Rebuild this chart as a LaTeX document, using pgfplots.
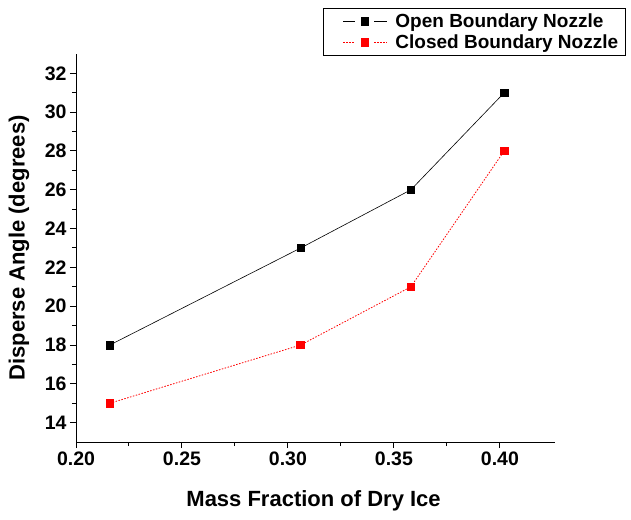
\documentclass[border=0pt]{standalone}
\usepackage{fontspec}
\setmainfont{Liberation Sans}
\usepackage{pgfplots}
\pgfplotsset{compat=1.18}

\begin{document}
\begin{tikzpicture}[x=1pt,y=1pt]
\useasboundingbox (0,0) rectangle (631,519);
\begin{axis}[
    at={(76pt,77pt)}, anchor=south west,
    scale only axis,
    width=479pt, height=388pt,
    xmin=0.2, xmax=0.426,
    ymin=13, ymax=33,
    axis lines*=left,
    axis line style={-, line width=1pt},
    tick align=outside,
    major tick length=6pt,
    minor tick length=4pt,
    tick style={line width=1pt, black},
    xtick={0.20,0.25,0.30,0.35,0.40},
    ytick={14,16,...,32},
    minor x tick num=1,
    minor y tick num=1,
    /pgf/number format/assume math mode=true,
    xticklabel style={/pgf/number format/fixed, /pgf/number format/fixed zerofill, /pgf/number format/precision=2},
    ticklabel style={font=\fontsize{19.5}{22}\selectfont\bfseries},
    xlabel={Mass Fraction of Dry Ice},
    ylabel={Disperse Angle (degrees)},
    every axis x label/.style={at={(axis description cs:0.496,-0.1675)}, anchor=base,
        font=\fontsize{22}{26}\selectfont\bfseries},
    every axis y label/.style={at={(axis description cs:-0.119,0.5)}, rotate=90, anchor=center,
        font=\fontsize{22}{26}\selectfont\bfseries},
    legend style={at={(axis description cs:0.5157,1.1186)}, anchor=north west,
        draw=black, line width=0.8pt, font=\fontsize{19}{22}\selectfont\bfseries,
        inner xsep=5pt, inner ysep=3pt, row sep=2pt},
    legend cell align=left,
    legend image code/.code={
        \path[draw=none] (-15pt,0pt) -- (50pt,0pt);
        \draw (0pt,0pt)--(12pt,0pt);
        \draw (31pt,0pt)--(44pt,0pt);
        \draw[only marks] plot coordinates {(21.5pt,0pt)};},
    clip=false,
]
\addplot[black, line width=0.6pt, mark=square*, mark size=3.8pt, mark options={solid}] coordinates {
    (0.216,18) (0.306,23) (0.358,26) (0.402,31)
};
\addplot[red, line width=0.8pt, dash pattern=on 1.5pt off 1.5pt, mark=square*, mark size=3.8pt, mark options={solid}] coordinates {
    (0.216,15) (0.306,18) (0.358,21) (0.402,28)
};
\legend{Open Boundary Nozzle, Closed Boundary Nozzle}
\end{axis}
\end{tikzpicture}
\end{document}
